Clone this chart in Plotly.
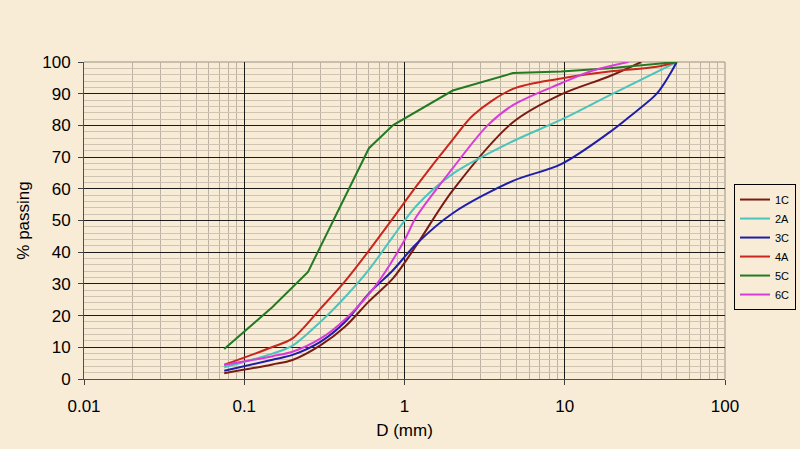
import plotly.graph_objects as go

# ---- data ----
x_1C = [0.075, 0.15, 0.2, 0.3, 0.425, 0.6, 0.85, 1.18, 2, 4.75, 9.5, 19, 30]
y_1C = [1.8, 4.6, 6.0, 10.7, 16.5, 24.5, 31.8, 42.0, 59.5, 81.0, 89.8, 95.5, 100]

x_2A = [0.075, 0.15, 0.2, 0.3, 0.425, 0.6, 0.85, 1.18, 2, 4.75, 9.5, 19, 50]
y_2A = [3.7, 8.0, 10.5, 18.1, 25.8, 34.5, 45.0, 54.5, 64.7, 75.0, 81.8, 89.5, 100]

x_3C = [0.075, 0.15, 0.2, 0.3, 0.425, 0.6, 0.85, 1.18, 2, 4.75, 9.5, 19, 25, 37.5, 45, 50]
y_3C = [2.6, 6.1, 7.6, 11.8, 18.0, 27.0, 34.4, 42.5, 52.3, 62.5, 67.8, 77.8, 82.5, 90.0, 95.9, 100]

x_4A = [0.075, 0.15, 0.2, 0.3, 0.425, 0.6, 0.85, 1.18, 2, 2.69, 4.75, 9.5, 19, 37.5, 50]
y_4A = [4.5, 10.1, 12.8, 22.3, 30.8, 40.5, 50.8, 60.7, 75.5, 83.3, 91.5, 94.8, 97.0, 98.5, 100]

x_5C = [0.075, 0.15, 0.25, 0.6, 0.85, 2, 4.75, 9.5, 19, 50]
y_5C = [9.5, 22.7, 33.8, 72.8, 80.1, 91.0, 96.5, 97.0, 98.0, 100]

x_6C = [0.075, 0.15, 0.2, 0.3, 0.425, 0.65, 1, 1.18, 2, 3.3, 4.75, 9.5, 15, 25]
y_6C = [4.4, 7.2, 8.6, 12.8, 18.8, 29.0, 43.8, 51.0, 66.5, 80.0, 86.4, 93.3, 97.3, 100]

series_names = ["1C", "2A", "3C", "4A", "5C", "6C"]
series_x = [x_1C, x_2A, x_3C, x_4A, x_5C, x_6C]
series_y = [y_1C, y_2A, y_3C, y_4A, y_5C, y_6C]
series_colors = ["#7A1A14", "#4CC4BC", "#1E1EA8", "#C8261E", "#237A23", "#D83CD8"]
series_shape = ["spline", "spline", "spline", "spline", "linear", "spline"]

x_ticks = [0.01, 0.1, 1, 10, 100]
x_ticklabels = ["0.01", "0.1", "1", "10", "100"]

BG = "#F8ECD6"
FONT = "Liberation Sans, Arial, sans-serif"

fig = go.Figure()
for name, xs, ys, col, shp in zip(series_names, series_x, series_y, series_colors, series_shape):
    fig.add_trace(go.Scatter(
        x=xs, y=ys, name=name, mode="lines",
        line=dict(color=col, width=2, shape=shp, smoothing=0.9),
    ))

fig.update_layout(
    width=800, height=449,
    margin=dict(l=84, r=75, t=62, b=70, autoexpand=False),
    paper_bgcolor=BG, plot_bgcolor=BG,
    font=dict(family=FONT, size=17, color="#000000"),
    showlegend=True,
    legend=dict(
        x=1.014, y=0.615, xanchor="left", yanchor="top",
        bgcolor=BG, bordercolor="#000000", borderwidth=1,
        font=dict(family=FONT, size=11, color="#000000"),
        itemwidth=30, tracegroupgap=0,
    ),
)

fig.update_xaxes(
    type="log", range=[-2, 2],
    tickvals=x_ticks, ticktext=x_ticklabels,
    ticks="outside", ticklen=5, tickcolor="#404040",
    ticklabelstandoff=7,
    showline=True, linecolor="#505050", linewidth=1, mirror=False,
    showgrid=True, gridcolor="#1A1A1A", gridwidth=1,
    minor=dict(dtick="D1", showgrid=True, gridcolor="#BDB3A4", gridwidth=1, ticks=""),
    zeroline=False,
    title=dict(text="D (mm)", font=dict(size=17), standoff=8),
)
fig.update_yaxes(
    range=[0, 100], dtick=10,
    ticks="outside", ticklen=5, tickcolor="#404040",
    ticklabelstandoff=4,
    showline=True, linecolor="#505050", linewidth=1,
    showgrid=True, gridcolor="#1A1A1A", gridwidth=1,
    minor=dict(dtick=2, showgrid=True, gridcolor="#CFC4B2", gridwidth=1, ticks=""),
    zeroline=False,
    title=dict(text="% passing", font=dict(size=17), standoff=8),
)

# light frame on the top and right of the plot area
fig.add_shape(type="line", xref="paper", yref="paper", x0=0, y0=1, x1=1, y1=1,
              line=dict(color="#9A9080", width=1), layer="below")
fig.add_shape(type="line", xref="paper", yref="paper", x0=1, y0=0, x1=1, y1=1,
              line=dict(color="#9A9080", width=1), layer="below")

fig.write_html("out.html")
